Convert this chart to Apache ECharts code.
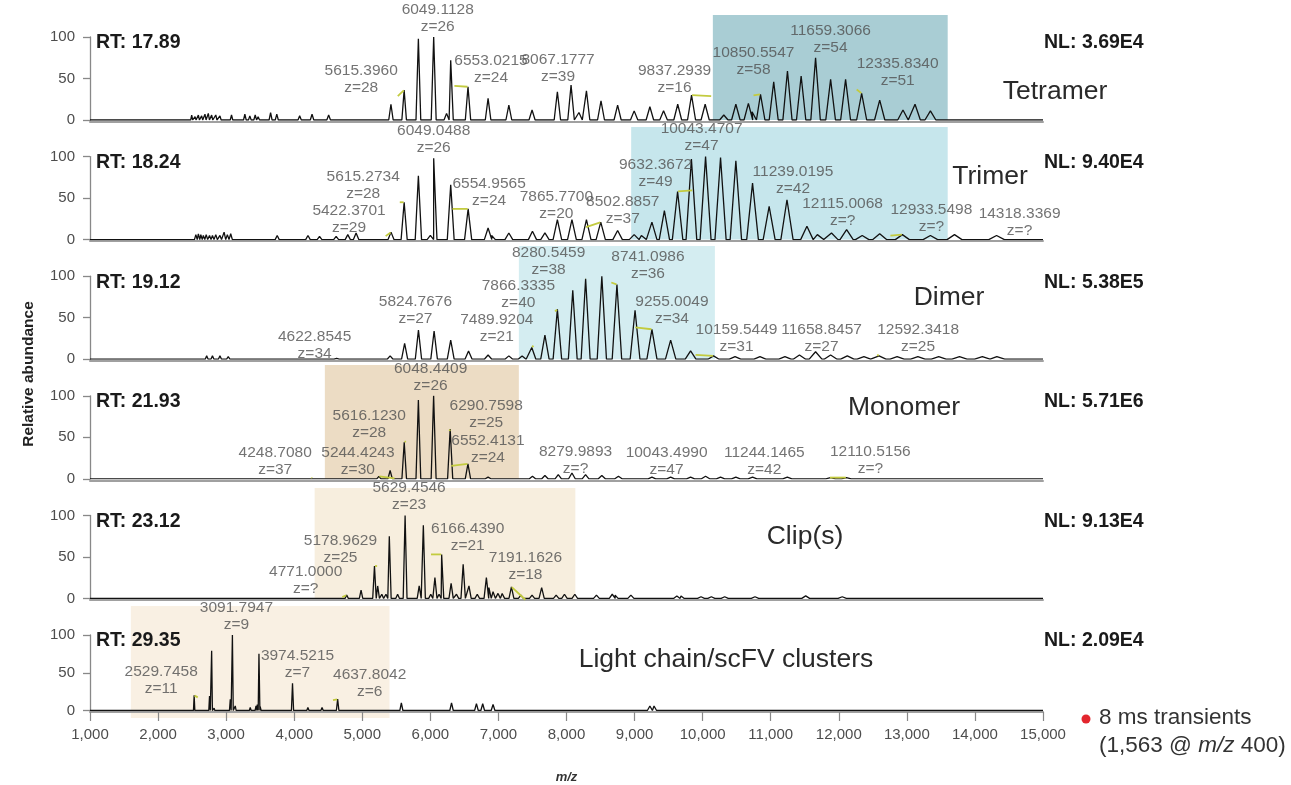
<!DOCTYPE html>
<html><head><meta charset="utf-8">
<script src="https://cdn.jsdelivr.net/npm/echarts@6/dist/echarts.min.js"></script>
<style>html,body{margin:0;padding:0;background:#fff;}#chart{width:1291px;height:785px;}</style>
</head><body><div id="chart"></div>
<script>
// ---------------- DATA ----------------
const xMin = 1000, xMax = 15000, xStep = 1000;
const yMin = 0, yMax = 100, yStep = 50;
const panelNames = ['Tetramer', 'Trimer', 'Dimer', 'Monomer', 'Clip(s)', 'Light chain/scFV clusters'];
const rtValues = ['17.89', '18.24', '19.12', '21.93', '23.12', '29.35'];
const nlValues = ['3.69E4', '9.40E4', '5.38E5', '5.71E6', '9.13E4', '2.09E4'];
const shadeRanges = [[10150, 13600], [8950, 13600], [7300, 10180], [4450, 7300], [4300, 8130], [1600, 5400]];
const xAxisTitle = 'm/z';
const yAxisTitle = 'Relative abundance';
const legendLine1 = '8 ms transients';
const legendLine2 = '(1,563 @ {i|m/z} 400)';

// peaks: [m/z, relative abundance]
const tetramerPeaks = [[2494,6],[2543,4],[2592,6],[2640,5],[2689,7],[2738,8],[2787,6],[2848,6],[2909,5],[3079,6],[3275,7],[3348,5],[3427,6],[3470,4],[3653,9],[3744,7],[4080,5],[4262,7],[4506,6],
  [5421,19],[5615,36],[5824,98],[6049,100],[6238,8],[6299,72],[6553,40],[6848,26],[7153,18],[7494,12],[7866,34],[8067,42],[8183,9],[8293,35],[8507,23],[8751,18],[8994,11],
  [9225,16],[9426,11],[9634,19],[9837,30],[10037,19],[10311,6],[10488,19],[10672,20],[10726,10],[10850,31],[11044,46],[11246,59],[11447,53],[11659,75],[11880,49],[12100,49],[12336,32],[12601,24],[12943,12],[13120,19],[13346,11]];
const trimerPeaks = [[2555,6],[2592,7],[2628,6],[2665,5],[2707,6],[2756,5],[2799,5],[2848,6],[2909,5],[2970,9],[3018,6],[3067,7],[3750,5],[4202,5],[4372,4],[4616,4],[4787,6],[4909,8],
  [5422,9],[5615,45],[5824,77],[6000,5],[6049,98],[6299,66],[6555,37],[6848,14],[6900,5],[7153,8],[7500,10],[7683,8],[7866,24],[8080,24],[8293,24],[8503,21],[8751,11],[8994,6],[9100,5],
  [9255,21],[9438,35],[9632,58],[9835,97],[10043,100],[10263,99],[10488,95],[10733,68],[10977,40],[11239,48],[11532,16],[11685,6],[11893,8],[12115,12],[12344,5],[12601,7],[12934,6],[13346,5],[13700,6],[14318,5]];
const dimerPeaks = [[2714,4],[2799,4],[2909,4],[3031,3],[3427,2],[4623,1],[5409,4],[5622,19],[5825,35],[6055,34],[6299,23],[6561,10],[6848,5],[7153,4],[7348,4],[7490,14],[7683,29],[7866,60],
  [8092,83],[8281,97],[8519,100],[8741,90],[9007,59],[9255,36],[9530,23],[9823,10],[10160,4],[10476,3],[10842,3],[11209,3],[11422,5],[11659,9],[11880,5],[12125,4],[12369,3],[12592,4],[12857,3],[13162,3],[13468,3],[13773,3],[14109,3],[14322,3]];
const monomerPeaks = [[4249,2],[5244,3],[5409,10],[5616,44],[5824,95],[6048,100],[6291,60],[6552,18],[6848,2],[7500,3],[7683,4],[7879,5],[8080,7],[8280,5],[8519,4],[8763,3],
  [9255,2],[9530,2],[9823,2],[10043,3],[10263,2],[10488,2],[10733,2],[11244,2],[11880,1.5],[12111,1.5]];
const clipPeaks = [[2543,2],[2897,2],[3427,2],[3653,2],[4262,2],[4771,4],[4982,10],[5179,39],[5226,15],[5287,5],[5348,5],[5397,75],[5519,5],[5629,100],[5836,15],[5897,88],[6006,5],[6067,25],[6128,5],[6166,53],
  [6305,18],[6384,5],[6482,41],[6567,15],[6689,5],[6823,25],[6860,13],[6921,8],[6994,6],[7055,6],[7191,14],[7330,4],[7494,4],[7635,13],[7848,4],[7970,5],[8122,5],[8440,4],[8672,5],[8714,4],[8946,4],
  [9621,3],[9682,3],[9976,2],[10128,2],[10324,2],[10769,2],[10824,2],[11514,3],[12051,2]];
const lightPeaks = [[2530,20],[2756,19],[2787,79],[2823,3],[3061,15],[3092,100],[3134,6],[3354,4],[3439,6],[3457,8],[3482,75],[3500,5],[3975,36],[4201,4],[4409,4],[4638,15],[5574,10],[6311,10],[6677,9],[6769,9],[6921,8],[9225,6],[9286,6]];

// annotations: [peak m/z, peak abundance, mass text, charge text]
const tetramerLabels = [[6049,100,'6049.1128','z=26'],[5615,36,'5615.3960','z=28'],[6553,40,'6553.0215','z=24'],[8067,42,'8067.1777','z=39'],[9837,30,'9837.2939','z=16'],[10850,31,'10850.5547','z=58'],[11659,75,'11659.3066','z=54'],[12336,32,'12335.8340','z=51']];
const trimerLabels = [[6049,98,'6049.0488','z=26'],[5615,45,'5615.2734','z=28'],[5422,9,'5422.3701','z=29'],[6555,37,'6554.9565','z=24'],[7866,24,'7865.7700','z=20'],[8503,21,'8502.8857','z=37'],[9632,58,'9632.3672','z=49'],[10043,100,'10043.4707','z=47'],[11239,48,'11239.0195','z=42'],[12115,12,'12115.0068','z=?'],[12934,6,'12933.5498','z=?'],[14318,5,'14318.3369','z=?']];
const dimerLabels = [[8281,97,'8280.5459','z=38'],[8741,90,'8741.0986','z=36'],[7866,60,'7866.3335','z=40'],[5825,35,'5824.7676','z=27'],[7490,14,'7489.9204','z=21'],[4623,1,'4622.8545','z=34'],[9255,36,'9255.0049','z=34'],[10160,4,'10159.5449','z=31'],[11659,9,'11658.8457','z=27'],[12592,4,'12592.3418','z=25']];
const monomerLabels = [[6048,100,'6048.4409','z=26'],[6291,60,'6290.7598','z=25'],[5616,44,'5616.1230','z=28'],[6552,18,'6552.4131','z=24'],[4249,2,'4248.7080','z=37'],[5244,3,'5244.4243','z=30'],[8280,5,'8279.9893','z=?'],[10043,3,'10043.4990','z=47'],[11244,2,'11244.1465','z=42'],[12111,1.5,'12110.5156','z=?']];
const clipLabels = [[5629,100,'5629.4546','z=23'],[6166,53,'6166.4390','z=21'],[5179,39,'5178.9629','z=25'],[4771,4,'4771.0000','z=?'],[7191,14,'7191.1626','z=18']];
const lightLabels = [[3092,100,'3091.7947','z=9'],[3975,36,'3974.5215','z=7'],[2530,20,'2529.7458','z=11'],[4638,15,'4637.8042','z=6']];

// ---------------- LAYOUT / STYLE ----------------
// label offsets (px, label centre relative to peak top) and leader-line flag
const tetramerLabelPos = [[4,-19,0],[-43,-11,1],[23,-18,1],[-13,-17,0],[-17,-16,1],[-7,-33,1],[15,-19,0],[36,-21,1]];
const trimerLabelPos = [[0,-19,0],[-41,-17,1],[-42,-13,1],[21,-17,1],[-1,-14,0],[22,-12,1],[-22,-18,1],[-4,-19,0],[6,-20,0],[-4,-17,0],[29,-16,1],[23,-13,0]];
const dimerLabelPos = [[-37,-17,1],[31,-19,1],[-39,-15,1],[-3,-20,0],[-35,-19,1],[-22,-13,0],[20,-19,1],[23,-18,1],[6,-14,0],[39,-18,1]];
const monomerLabelPos = [[-3,-19,0],[36,-15,1],[-35,-18,1],[20,-15,1],[-36,-16,1],[-21,-15,1],[-10,-14,0],[-39,-15,0],[-23,-16,0],[24,-17,1]];
const clipLabelPos = [[4,-19,0],[26,-17,1],[-34,-17,1],[-41,-15,1],[14,-21,1]];
const lightLabelPos = [[4,-19,0],[5,-19,0],[-33,-15,1],[32,-16,1]];

const FONT = '"Liberation Sans", Arial, Helvetica, sans-serif';
const LEFT = 90, RIGHT = 248, TOP0 = 37, STEP = 119.6, PH = 83;
const shadeTops = [15, 127, 246, 365, 488, 606];
const shadeColors = ['#a9cdd4', '#c6e6ec', '#d4edf1', '#ecdcc4', '#f7eede', '#f9f0e3'];
const peakHalfWidth = [0.006, 0.008, 0.008, 0.006, 0.005, 0.004];
const namePos = [[1055, 92], [990, 177], [949, 298], [904, 408], [805, 537], [726, 660]];

const peaksList = [tetramerPeaks, trimerPeaks, dimerPeaks, monomerPeaks, clipPeaks, lightPeaks];
const labelsList = [tetramerLabels, trimerLabels, dimerLabels, monomerLabels, clipLabels, lightLabels];
const labelPosList = [tetramerLabelPos, trimerLabelPos, dimerLabelPos, monomerLabelPos, clipLabelPos, lightLabelPos];

function profile(peaks, k) {
  const pts = [[xMin, 0]];
  let last = xMin;
  peaks.slice().sort((a, b) => a[0] - b[0]).forEach(([mz, h]) => {
    const hw = mz * k;
    const l = Math.max(mz - hw, last);
    pts.push([l, 0], [mz, h], [mz + hw, 0]);
    last = mz + hw;
  });
  pts.push([xMax, 0]);
  return pts;
}

const grids = [], xAxes = [], yAxes = [], series = [], graphics = [];
for (let i = 0; i < 6; i++) {
  const top = TOP0 + STEP * i;
  const isLast = i === 5;
  grids.push({ left: LEFT, right: RIGHT, top: top, height: PH });
  xAxes.push({
    gridIndex: i, type: 'value', min: xMin, max: xMax, interval: xStep, offset: 1.5,
    axisLine: { show: true, onZero: false, lineStyle: { color: '#a0a0a0', width: 2 } },
    axisTick: { show: isLast, length: 9, lineStyle: { color: '#888', width: 1.2 } },
    axisLabel: { show: isLast, margin: 15, color: '#4d4d4d', fontSize: 15, fontFamily: FONT,
      formatter: v => v.toLocaleString('en-US') },
    splitLine: { show: false },
    name: isLast ? xAxisTitle : '', nameLocation: 'middle', nameGap: 59,
    nameTextStyle: { fontStyle: 'italic', fontWeight: 'bold', fontSize: 13, color: '#333', fontFamily: FONT }
  });
  yAxes.push({
    gridIndex: i, type: 'value', min: yMin, max: yMax, interval: yStep,
    axisLine: { show: true, lineStyle: { color: '#888', width: 1.3 } },
    axisTick: { show: true, length: 7, lineStyle: { color: '#888', width: 1.3 } },
    axisLabel: { margin: 15, color: '#4d4d4d', fontSize: 15, fontFamily: FONT },
    splitLine: { show: false }
  });
  series.push({
    type: 'line', xAxisIndex: i, yAxisIndex: i, data: profile(peaksList[i], peakHalfWidth[i]),
    symbol: 'none', lineStyle: { color: '#111', width: 1.3 }, z: 2, silent: true
  });
  const labels = labelsList[i], pos = labelPosList[i];
  series.push({
    type: 'scatter', xAxisIndex: i, yAxisIndex: i, z: 4, silent: true,
    symbolSize: 1, itemStyle: { color: 'rgba(0,0,0,0)' },
    label: { show: true, position: 'inside', color: '#505050', fontSize: 15.5, lineHeight: 17, fontFamily: FONT, align: 'center' },
    labelLine: { show: false, lineStyle: { color: '#c3cb3f', width: 1.8 } },
    data: labels.map((L, j) => ({
      value: [L[0], L[1]],
      label: { formatter: L[2] + '\n' + L[3], offset: [pos[j][0], pos[j][1]] },
      labelLine: { show: !!pos[j][2] }
    }))
  });
  graphics.push({ type: 'text', x: 96, y: top + 6, style: { text: 'RT: ' + rtValues[i], font: 'bold 19.5px ' + FONT, fill: '#1a1a1a', verticalAlign: 'middle', textVerticalAlign: 'middle' } });
  graphics.push({ type: 'text', x: 1044, y: top + 6, style: { text: 'NL: ' + nlValues[i], font: 'bold 19.5px ' + FONT, fill: '#1a1a1a', verticalAlign: 'middle', textVerticalAlign: 'middle' } });
  graphics.push({ type: 'text', x: namePos[i][0], y: namePos[i][1], style: { text: panelNames[i], font: '26.5px ' + FONT, fill: '#2a2a2a', align: 'center', textAlign: 'center', verticalAlign: 'middle', textVerticalAlign: 'middle' } });
}
// shading windows: separate hidden grids sharing the same m/z scale
for (let i = 0; i < 6; i++) {
  const base = TOP0 + STEP * i + PH;
  const gi = 6 + i;
  grids.push({ left: LEFT, right: RIGHT, top: shadeTops[i], height: base - shadeTops[i] });
  xAxes.push({ gridIndex: gi, type: 'value', min: xMin, max: xMax, show: false });
  yAxes.push({ gridIndex: gi, type: 'value', min: 0, max: 1, show: false });
  series.push({
    type: 'line', xAxisIndex: gi, yAxisIndex: gi, data: [], symbol: 'none', silent: true, z: 0,
    markArea: { silent: true, z: -1, itemStyle: { color: shadeColors[i] }, label: { show: false },
      data: [[{ xAxis: shadeRanges[i][0] }, { xAxis: shadeRanges[i][1] }]] }
  });
}
graphics.push({ type: 'text', x: 29, y: 374, rotation: Math.PI / 2, style: { text: yAxisTitle, font: 'bold 15.5px ' + FONT, fill: '#222', align: 'center', textAlign: 'center', verticalAlign: 'middle', textVerticalAlign: 'middle' } });
graphics.push({ type: 'circle', shape: { cx: 1086, cy: 719, r: 4.5 }, style: { fill: '#e3262e' } });
graphics.push({ type: 'text', x: 1099, y: 718, style: { text: legendLine1, font: '22.5px ' + FONT, fill: '#333', verticalAlign: 'middle', textVerticalAlign: 'middle' } });
graphics.push({ type: 'text', x: 1099, y: 746, style: { text: legendLine2, font: '22.5px ' + FONT, fill: '#333', verticalAlign: 'middle', textVerticalAlign: 'middle',
  rich: { i: { fontStyle: 'italic', fontSize: 22.5, fontFamily: FONT, fill: '#333', color: '#333' } } } });

const chart = echarts.init(document.getElementById('chart'), null, { renderer: 'canvas' });
chart.setOption({
  animation: false,
  backgroundColor: '#ffffff',
  grid: grids, xAxis: xAxes, yAxis: yAxes, series: series,
  graphic: { elements: graphics }
});
</script></body></html>
